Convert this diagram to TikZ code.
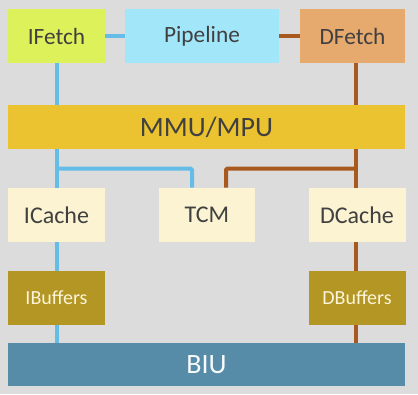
\documentclass[tikz,border=0pt]{standalone}
\usepackage{fontspec}
\setmainfont{Carlito}
\usetikzlibrary{calc,backgrounds}

\definecolor{bgc}{HTML}{DCDCDC}
\definecolor{ifc}{HTML}{DDF25A}
\definecolor{pipc}{HTML}{A2E6FA}
\definecolor{dfc}{HTML}{E6A96E}
\definecolor{mmuc}{HTML}{EBC22F}
\definecolor{cachec}{HTML}{FBF3D1}
\definecolor{bufc}{HTML}{B39624}
\definecolor{biuc}{HTML}{568CA8}
\definecolor{ibus}{HTML}{63BDE6}
\definecolor{dbus}{HTML}{A85A1E}
\definecolor{txt}{HTML}{404040}

\tikzset{
  blk/.style={rectangle, inner sep=0pt, text=txt},
  topblk/.style={blk, minimum height=40.5pt, font=\fontsize{17.5}{20}\selectfont},
  cacheblk/.style={blk, fill=cachec, minimum width=72.75pt, minimum height=40.5pt, font=\fontsize{18}{21}\selectfont},
  bufblk/.style={blk, fill=bufc, text=cachec!80!white, minimum width=72.75pt, minimum height=40.5pt, font=\fontsize{15}{18}\selectfont},
  wideblk/.style={blk, minimum width=297.75pt, minimum height=33pt, font=\fontsize{21}{24}\selectfont},
  ilink/.style={draw=ibus, line width=3pt, rounded corners=1pt},
  dlink/.style={draw=dbus, line width=3pt, rounded corners=1pt},
}

\begin{document}
\begin{tikzpicture}[x=0.75pt, y=-0.75pt]
  \useasboundingbox (0,0) rectangle (418,394);

  % fetch stage
  \node[topblk, fill=ifc, minimum width=72.75pt] (ifetch) at (56.5,36) {IFetch};
  \node[topblk, fill=pipc, minimum width=115.5pt] (pipe) at (202,36) {Pipeline};
  \node[topblk, fill=dfc, minimum width=78.75pt] (dfetch) at (352.5,36) {DFetch};

  \node[wideblk, fill=mmuc] (mmu) at (206.5,127) {MMU/MPU};

  % memories
  \node[cacheblk] (icache) at (56.5,215) {ICache};
  \node[cacheblk, minimum width=72pt] (tcm) at (207,215) {TCM};
  \node[cacheblk] (dcache) at (357,215) {DCache};

  \node[bufblk] (ibuf) at (56.5,298) {IBuffers};
  \node[bufblk] (dbuf) at (357,298) {DBuffers};

  \node[wideblk, fill=biuc, text=white!95!biuc, minimum height=32.25pt] (biu) at (206.5,364.5) {BIU};

  \coordinate (ix) at (57,0);
  \coordinate (dx) at (356,0);
  \coordinate (split) at ($(mmu.south)!0.5!(tcm.north)$);

  \begin{scope}[on background layer]
    \fill[bgc] (0,0) rectangle (418,394);
    % instruction side
    \draw[ilink] (ifetch.east) -- (pipe.west);
    \draw[ilink] (ifetch.south -| ix) -- (biu.north -| ix);
    \draw[ilink] (split -| ix) -- (split -| 192,0) -- (tcm.north -| 192,0);
    % data side
    \draw[dlink] (pipe.east) -- (dfetch.west);
    \draw[dlink] (dfetch.south -| dx) -- (biu.north -| dx);
    \draw[dlink] (split -| dx) -- (split -| 226,0) -- (tcm.north -| 226,0);
  \end{scope}
\end{tikzpicture}
\end{document}
